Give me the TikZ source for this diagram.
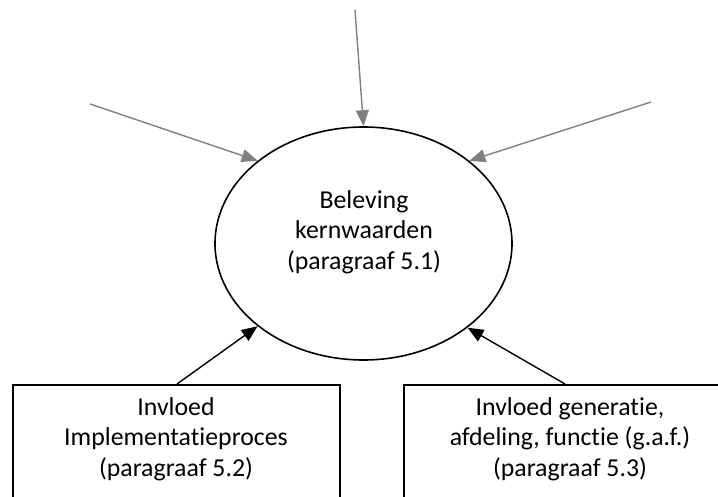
\documentclass[tikz,border=0pt]{standalone}
\usepackage{fontspec}
\setmainfont{Carlito}[RawFeature=-liga]
\usetikzlibrary{shapes.geometric,arrows.meta}
\begin{document}
\begin{tikzpicture}[x=1pt,y=-1pt,
  coreshape/.style={ellipse, draw=black, line width=1.6pt,
    minimum width=297pt, minimum height=233pt, inner sep=0pt},
  boxshape/.style={rectangle, draw=black, line width=1.6pt,
    anchor=north west, inner sep=0pt, minimum height=160pt},
  txt/.style={align=center, inner sep=0pt,
    font=\fontsize{25.8pt}{30.5pt}\selectfont},
  influx/.style={draw=gray, line width=1.4pt,
    -{Triangle[length=16pt,width=13pt]}},
  feed/.style={draw=black, line width=1.4pt,
    -{Triangle[length=16pt,width=13pt]}}]
\useasboundingbox (0,0) rectangle (718,497);
\clip (0,0) rectangle (718,497);

% central ellipse and its text
\node[coreshape] (core) at (363.5,243.5) {};
\node[txt] (coretext) at (364,232) {Beleving\\kernwaarden\\(paragraaf 5.1)};

% the two boxes below, running off the page edge
\node[boxshape, minimum width=327pt] (lbox) at (12,384) {};
\node[boxshape, minimum width=334pt] (rbox) at (403,384) {};
\node[txt] (ltext) at (176,439) {Invloed\\Implementatieproces\\(paragraaf 5.2)};
\node[txt] (rtext) at (570,439) {Invloed generatie,\\afdeling, functie (g.a.f.)\\(paragraaf 5.3)};

% free ends of the grey incoming arrows
\coordinate (srctop) at (355,10);
\coordinate (srcleft) at (90,104);
\coordinate (srcright) at (651,102);

\draw[influx] (srctop) -- (core.north);
\draw[influx] (srcleft) -- (core.142.3);
\draw[influx] (srcright) -- (core.38);

% black arrows from the boxes
\coordinate (lstart) at (177,384);
\coordinate (rstart) at (565,384);
\draw[feed] (lstart) -- (core.218.7);
\draw[feed] (rstart) -- (core.321.6);
\end{tikzpicture}
\end{document}
